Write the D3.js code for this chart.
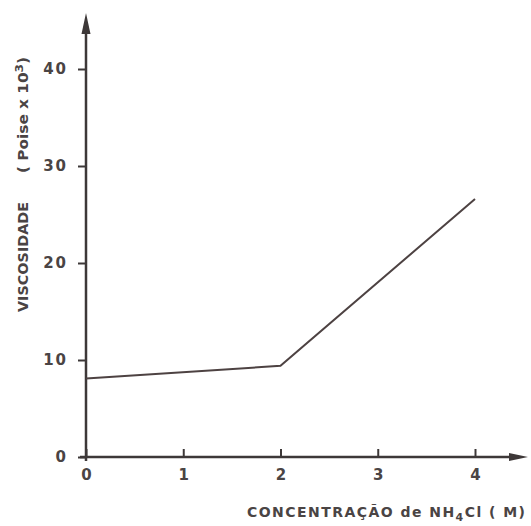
<!DOCTYPE html>
<html>
<head>
<meta charset="utf-8">
<script src="https://cdn.jsdelivr.net/npm/d3@7"></script>
<style>
  body { margin: 0; background: #fff; }
  text { font-family: "DejaVu Sans", sans-serif; font-weight: bold; fill: #4a4444; }
</style>
</head>
<body>
<div id="chart"></div>
<script>
// data
const concentration = [0, 2, 4];
const viscosity = [8.1, 9.4, 26.6];
const xTicks = [0, 1, 2, 3, 4];
const yTicks = [0, 10, 20, 30, 40];

const width = 531;
const height = 526;
const ink = "#3d3838";

const x = d3.scaleLinear().domain([0, 4]).range([86, 475]);
const y = d3.scaleLinear().domain([0, 40]).range([457, 69]);

const svg = d3.select("#chart").append("svg")
  .attr("width", width)
  .attr("height", height);

// y axis
const yAxis = svg.append("g")
  .attr("transform", `translate(${x(0)},0)`)
  .call(d3.axisLeft(y).tickValues(yTicks).tickSize(8).tickPadding(10).tickFormat(d3.format("d")))
  .call(g => g.select(".domain").remove());
yAxis.selectAll(".tick line").attr("stroke", ink).attr("stroke-width", 2);
yAxis.selectAll(".tick text")
  .attr("font-size", 15).attr("letter-spacing", 2)
  .attr("font-family", "DejaVu Sans").attr("font-weight", "bold");

// x axis (ticks point up)
const xAxis = svg.append("g")
  .attr("transform", `translate(0,${y(0)})`)
  .call(d3.axisBottom(x).tickValues(xTicks).tickSizeInner(-8).tickSizeOuter(0).tickPadding(12).tickFormat(d3.format("d")))
  .call(g => g.select(".domain").remove());
xAxis.selectAll(".tick line").attr("stroke", ink).attr("stroke-width", 2);
xAxis.selectAll(".tick text")
  .attr("font-size", 15)
  .attr("font-family", "DejaVu Sans").attr("font-weight", "bold");

// axis lines with arrows
svg.append("line")
  .attr("x1", x(0)).attr("x2", x(0))
  .attr("y1", y(0) + 4).attr("y2", 30)
  .attr("stroke", ink).attr("stroke-width", 2.5);
svg.append("path")
  .attr("d", `M${x(0)},13 L${x(0) - 4.5},34 L${x(0) + 4.5},34 Z`)
  .attr("fill", ink);

svg.append("line")
  .attr("x1", x(0) - 6).attr("x2", 512)
  .attr("y1", y(0)).attr("y2", y(0))
  .attr("stroke", ink).attr("stroke-width", 2.5);
svg.append("path")
  .attr("d", `M528,${y(0)} L509,${y(0) - 4} L509,${y(0) + 4} Z`)
  .attr("fill", ink);

// data line
const line = d3.line()
  .x((d, i) => x(concentration[i]))
  .y(d => y(d));

svg.append("path")
  .datum(viscosity)
  .attr("d", line)
  .attr("fill", "none")
  .attr("stroke", "#4d4242")
  .attr("stroke-width", 2)
  .attr("stroke-linejoin", "miter");

// x title
const xt = svg.append("text")
  .attr("x", 247).attr("y", 517)
  .attr("font-size", 14)
  .attr("textLength", 278).attr("lengthAdjust", "spacing");
xt.append("tspan").text("CONCENTRAÇÃO de NH");
xt.append("tspan").attr("dy", 4).attr("font-size", 11).text("4");
xt.append("tspan").attr("dy", -4).text("Cl ( M)");

// y title
svg.append("text")
  .attr("transform", "translate(28,312) rotate(-90)")
  .attr("font-size", 14)
  .attr("textLength", 110).attr("lengthAdjust", "spacingAndGlyphs")
  .text("VISCOSIDADE");

const yt = svg.append("text")
  .attr("transform", "translate(28,173) rotate(-90)")
  .attr("font-size", 14)
  .attr("textLength", 116).attr("lengthAdjust", "spacingAndGlyphs");
yt.append("tspan").text("( Poise x 10");
yt.append("tspan").attr("dy", -5).attr("font-size", 11).text("3");
yt.append("tspan").attr("dy", 5).text(")");
</script>
</body>
</html>
